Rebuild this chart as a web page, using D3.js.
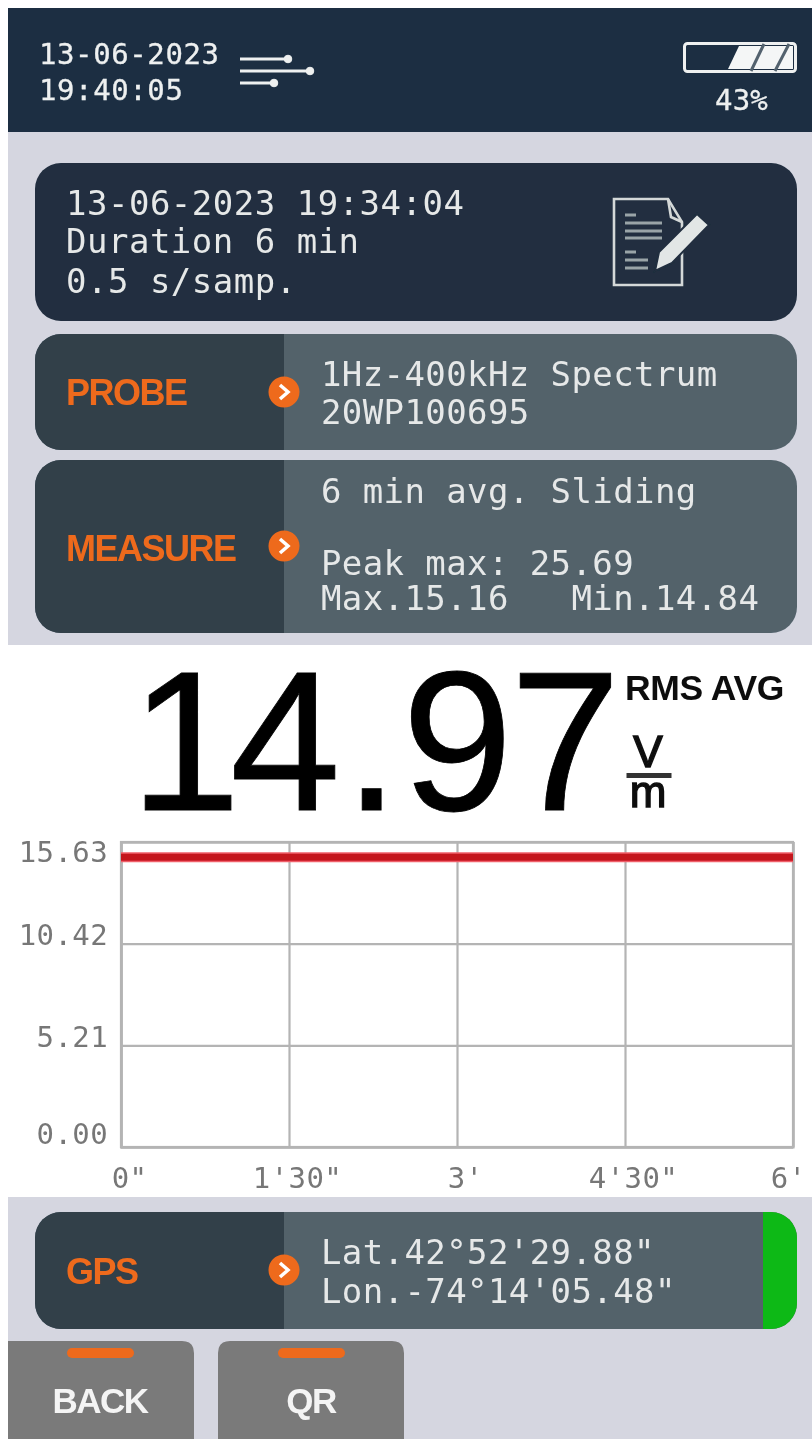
<!DOCTYPE html>
<html><head><meta charset="utf-8">
<script src="https://cdn.jsdelivr.net/npm/d3@7"></script>
<style>html,body{margin:0;padding:0;background:#fff}svg{display:block}text{white-space:pre}</style>
</head><body><div id="c"></div>
<script>
const yTickValues = [0, 5.21, 10.42, 15.63];
const yTickLabels = ["0.00", "5.21", "10.42", "15.63"];
const xTickValues = [0, 90, 180, 270, 360];
const xTickLabels = ['0"', "1'30\"", "3'", "4'30\"", "6'"];
const timeSeconds = [0, 90, 180, 270, 360];
const fieldValues = [14.85, 14.85, 14.85, 14.85, 14.85];
const headerLines = ["13-06-2023", "19:40:05"];
const batteryLabel = "43%";
const sessionLines = ["13-06-2023 19:34:04", "Duration 6 min", "0.5 s/samp."];
const probeLines = ["1Hz-400kHz Spectrum", "20WP100695"];
const measureLines = ["6 min avg. Sliding", "Peak max: 25.69", "Max.15.16   Min.14.84"];
const gpsLines = ["Lat.42°52'29.88\"", "Lon.-74°14'05.48\""];
const bigValue = "14.97";

const W = 812, H = 1439, MONO = "'DejaVu Sans Mono',monospace", SANS = "'Liberation Sans',Arial,sans-serif";
const ORANGE = "#ee6a1c", LIGHT = "#e6e8e8", HEAD = "#1a2e42";
const svg = d3.select("#c").append("svg").attr("width", W).attr("height", H);
const defs = svg.append("defs");
defs.append("filter").attr("id","soft").attr("x","-5%").attr("y","-5%").attr("width","110%").attr("height","110%")
  .append("feGaussianBlur").attr("stdDeviation",0.6);
const root = svg.append("g").attr("filter","url(#soft)");
const rect = (x,y,w,h,f,r=0,p=root)=>p.append("rect").attr("x",x).attr("y",y).attr("width",w).attr("height",h).attr("fill",f).attr("rx",r);
const text = (x,y,s,o={},p=root)=>p.append("text").attr("x",x).attr("y",y).text(s)
  .attr("font-family",o.ff||MONO).attr("font-size",o.fs||34).attr("fill",o.fill||LIGHT)
  .attr("font-weight",o.fw||400).attr("text-anchor",o.a||"start").attr("letter-spacing",o.ls||0)
  .attr("stroke",o.stroke||"none").attr("stroke-width",o.sw||0);

// backgrounds
rect(8,8,W-8,H-8,"#d5d6e0");
rect(8,8,W-8,124,HEAD);
rect(8,645,W-8,552,"#ffffff");

// header
headerLines.forEach((s,i)=>text(39,[64,100][i],s,{fs:29,ls:.6,fill:"#eef0f0",stroke:"#eef0f0",sw:.3}));
const filt = root.append("g").attr("stroke","#eef0f0").attr("fill","#eef0f0");
[[240,288,59],[240,310,71],[240,274,83]].forEach(([a,b,y])=>{
  filt.append("line").attr("x1",a).attr("x2",b).attr("y1",y).attr("y2",y).attr("stroke-width",3.2);
  filt.append("circle").attr("cx",b).attr("cy",y).attr("r",3.8);
});
// battery
root.append("rect").attr("x",684.5).attr("y",43.5).attr("width",111).attr("height",28).attr("rx",3).attr("fill",HEAD).attr("stroke","#eef0f0").attr("stroke-width",3);
root.append("path").attr("d","M728,69 L739,46 H793 V69 Z").attr("fill","#f4f6f6");
root.append("path").attr("d","M751,71 L764,44 M775,71 L789,44").attr("stroke","#53626e").attr("stroke-width",3).attr("fill","none");
text(715,110,batteryLabel,{fs:29,ls:.2,fill:"#eef0f0",stroke:"#eef0f0",sw:.3});

// session panel
rect(35,163,762,158,"#202e3f",26);
sessionLines.forEach((s,i)=>text(66,[215,253,293][i],s,{fs:34,ls:.5}));
const doc = root.append("g").attr("stroke","#d4d8d8").attr("fill","none").attr("stroke-width",2.6);
doc.append("path").attr("d","M614,199 H668 L682,222 V285 H614 Z");
doc.append("path").attr("d","M668,199 L671,217 L682,222");
[[625,636,215],[625,662,223],[625,662,231],[625,662,238],[625,636,252],[625,648,260],[625,648,268]].forEach(([a,b,y])=>
  doc.append("line").attr("x1",a).attr("x2",b).attr("y1",y).attr("y2",y).attr("stroke-width",3).attr("stroke","#9aa4a8"));
root.append("path").attr("d","M655,271 L659,252 L697,214 L709,225 L672,263 Z").attr("fill","#e2e6e6").attr("stroke","#202e3f").attr("stroke-width",2);

// split panels
function split(id,y,h,label,labelY,arrowY,lines,ys,green){
  const cp = defs.append("clipPath").attr("id",id);
  cp.append("rect").attr("x",35).attr("y",y).attr("width",762).attr("height",h).attr("rx",26);
  const g = root.append("g").attr("clip-path",`url(#${id})`);
  rect(35,y,762,h,"#52626b",0,g);
  rect(35,y,249,h,"#303f4a",0,g);
  if(green) rect(763,y,34,h,"#10b914",0,g);
  text(66,labelY,label,{ff:SANS,fs:36,fw:700,fill:ORANGE,ls:-1.5});
  root.append("circle").attr("cx",284).attr("cy",arrowY).attr("r",15.5).attr("fill",ORANGE);
  root.append("path").attr("d",`M280,${arrowY-7} L288,${arrowY} L280,${arrowY+7}`).attr("fill","none").attr("stroke","#fff").attr("stroke-width",3.5);
  lines.forEach((s,i)=>text(321,ys[i],s,{fs:34,ls:.4}));
}
split("cpProbe",334,116,"PROBE",405,392,probeLines,[386,424]);
split("cpMeasure",460,173,"MEASURE",561,546,measureLines,[503,575,610]);
split("cpGps",1212,117,"GPS",1284,1270,gpsLines,[1264,1303],true);

// big reading
text(130,810,bigValue,{ff:SANS,fs:199,fill:"#000",stroke:"#000",sw:.8}).attr("x","130 230 344 402 510");
text(625,700,"RMS AVG",{ff:SANS,fs:35.5,fw:700,fill:"#111",ls:-.4});
text(648,767,"V",{ff:SANS,fs:44,fill:"#111",a:"middle",stroke:"#111",sw:1.6});
rect(626.5,773,45,5,"#333");
text(648,807,"m",{ff:SANS,fs:44,fill:"#111",a:"middle",stroke:"#111",sw:1.4});

// chart
const x = d3.scaleLinear().domain([0,360]).range([121,793]);
const y = d3.scaleLinear().domain([0,15.63]).range([1147,842]);
const GRID = "#b4b4b4", TICK = "#777";
const gx = root.append("g").attr("transform",`translate(0,${y(0)})`)
  .call(d3.axisBottom(x).tickValues(xTickValues).tickSize(-(y(0)-y(15.63))).tickFormat((d,i)=>xTickLabels[i]));
const gy = root.append("g").attr("transform",`translate(${x(0)},0)`)
  .call(d3.axisLeft(y).tickValues(yTickValues).tickSize(-(x(360)-x(0))).tickFormat((d,i)=>yTickLabels[i]));
[gx,gy].forEach(g=>{
  g.select(".domain").attr("stroke",GRID).attr("stroke-width",2.2).attr("fill","none");
  g.selectAll(".tick line").attr("stroke",GRID).attr("stroke-width",2.2);
  g.selectAll(".tick text").attr("font-family",MONO).attr("font-size",29).attr("fill",TICK).attr("letter-spacing",.4);
});
gx.selectAll(".tick text").attr("y",20).attr("dy","0.71em").attr("text-anchor","middle").attr("dx",(d,i)=>i==4?-5:8);
gy.selectAll(".tick text").attr("x",-13).attr("dy",0).attr("y",(d,i)=>[-4,1,1,19][i]);
root.append("rect").attr("x",x(0)).attr("y",y(15.63)).attr("width",x(360)-x(0)).attr("height",y(0)-y(15.63)).attr("fill","none").attr("stroke",GRID).attr("stroke-width",2.2);
const line = d3.line().x((d,i)=>x(timeSeconds[i])).y(d=>y(d));
root.append("path").datum(fieldValues).attr("d",line).attr("fill","none").attr("stroke","#f0606a").attr("stroke-width",10);
root.append("path").datum(fieldValues).attr("d",line).attr("fill","none").attr("stroke","#c4141e").attr("stroke-width",7);

// buttons
function btn(x0,w,label,r){
  const yt=1341;
  root.append("path").attr("d",`M${x0},${H} V${yt+(r?12:0)} ${r?`Q${x0},${yt} ${x0+12},${yt}`:""} H${x0+w-12} Q${x0+w},${yt} ${x0+w},${yt+12} V${H} Z`).attr("fill","#7a7a7a");
  const cx = x0+(w/2)+(r?0:-1);
  rect(cx-33,1348,67,10,ORANGE,5);
  text(cx,1413,label,{ff:SANS,fs:35,fw:700,fill:"#f4f4f4",a:"middle",ls:-1.5});
}
btn(8,186,"BACK",false);
btn(218,186,"QR",true);
</script></body></html>
